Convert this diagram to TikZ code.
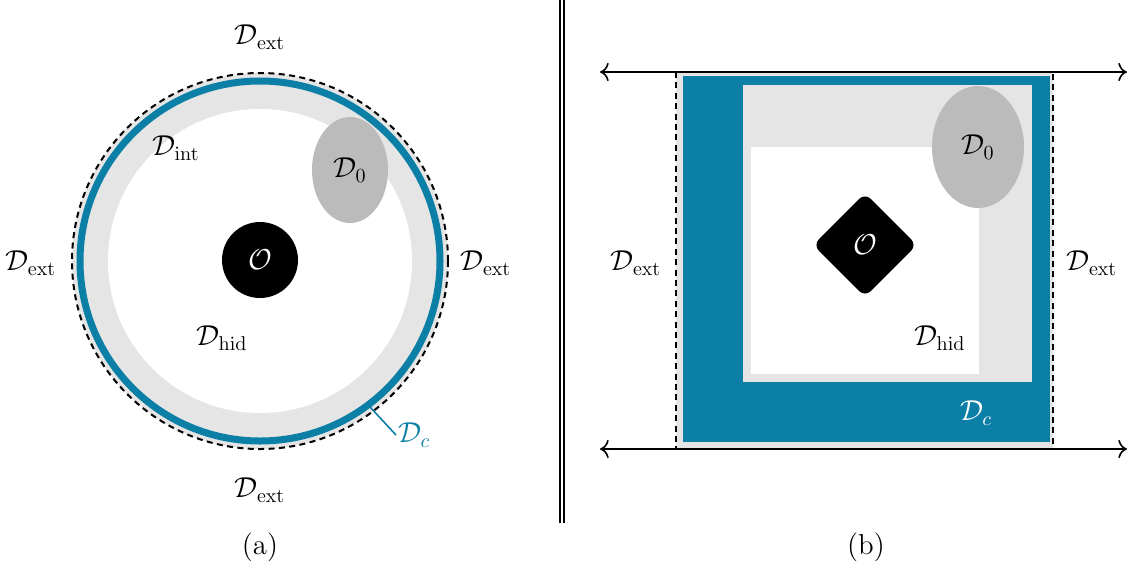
\documentclass[tikz,border=0pt]{standalone}
\usepackage{tikz}
\usetikzlibrary{arrows.meta,positioning,shapes.geometric}
\definecolor{domBlue}{HTML}{0B7FA6}
\definecolor{domLight}{HTML}{E5E5E5}
\definecolor{domGray}{HTML}{BBBBBB}

\begin{document}
\begin{tikzpicture}[x=0.5pt, y=-0.5pt,
      lbl/.style={inner sep=1pt, font=\Large},
      lblw/.style={lbl, text=white},
      bord/.style={line width=1pt, dash pattern=on 3pt off 2.2pt},
      blob/.style={ellipse, fill=domGray, inner sep=0pt, font=\Large},
      obst/.style={fill=black, text=white, inner sep=0pt, font=\Large},
      arr/.style={{To[scale=1.3]}-{To[scale=1.3]}, thick}]
  \useasboundingbox (0,0) rectangle (1128,569);
  % (a) disc
  \coordinate (ca) at (260,261);
  \fill[domLight] (ca) circle[radius=188];
  \draw[bord] (ca) circle[radius=188];
  \draw[domBlue, line width=3.5pt] (ca) circle[radius=180];
  \fill[white] (ca) circle[radius=152];
  \node[blob, minimum width=38pt, minimum height=53pt] (d0a) at (350,170) {$\mathcal{D}_0$};
  \node[obst, circle, minimum size=38pt] (oa) at (260,260) {$\mathcal{O}$};
  \node[lbl] (inta) at (176,148) {$\mathcal{D}_{\mathrm{int}}$};
  \node[lbl] (hida) at (222,338) {$\mathcal{D}_{\mathrm{hid}}$};
  \node[lbl] (exta1) at (260,37) {$\mathcal{D}_{\mathrm{ext}}$};
  \node[lbl] (exta2) at (31,263) {$\mathcal{D}_{\mathrm{ext}}$};
  \node[lbl] (exta3) at (486,263) {$\mathcal{D}_{\mathrm{ext}}$};
  \node[lbl] (exta4) at (260,490) {$\mathcal{D}_{\mathrm{ext}}$};
  \node[lbl, text=domBlue, anchor=west] (dca) at (396,435) {$\mathcal{D}_c$};
  \path (ca) ++(53:183) coordinate (ringpt);
  \draw[domBlue, thick] (ringpt) -- (dca.west);
  \node[lbl] (capa) at (260,547) {(a)};
  % separator
  \coordinate (sept) at (562,0);
  \coordinate (sepb) at (562,523);
  \draw[double, double distance=0.8pt, line width=0.9pt] (sept) -- (sepb);
  % (b) square
  \fill[domLight] (676,72) rectangle (1053,449);
  \draw[bord] (676,72) rectangle (1053,449);
  \fill[domBlue] (683,76) rectangle (1050,442);
  \fill[domLight] (743,85) rectangle (1032,382);
  \fill[white] (751,147) rectangle (979,374);
  \node[blob, minimum width=46pt, minimum height=61pt] (d0b) at (978,147) {$\mathcal{D}_0$};
  \node[obst, diamond, rounded corners=4pt, minimum size=52pt] (ob) at (865,245) {};
  \node[lblw] (obl) at (ob) {$\mathcal{O}$};
  \node[lbl] (hidb) at (940,338) {$\mathcal{D}_{\mathrm{hid}}$};
  \node[lblw] (dcb) at (976,413) {$\mathcal{D}_c$};
  \node[lbl] (extb1) at (636,263) {$\mathcal{D}_{\mathrm{ext}}$};
  \node[lbl] (extb2) at (1092,263) {$\mathcal{D}_{\mathrm{ext}}$};
  \coordinate (tl) at (600,72);
  \coordinate (tr) at (1127,72);
  \coordinate (bl) at (600,449);
  \coordinate (br) at (1127,449);
  \draw[arr] (tl) -- (tr);
  \draw[arr] (bl) -- (br);
  \node[lbl] (capb) at (866,547) {(b)};
\end{tikzpicture}
\end{document}
